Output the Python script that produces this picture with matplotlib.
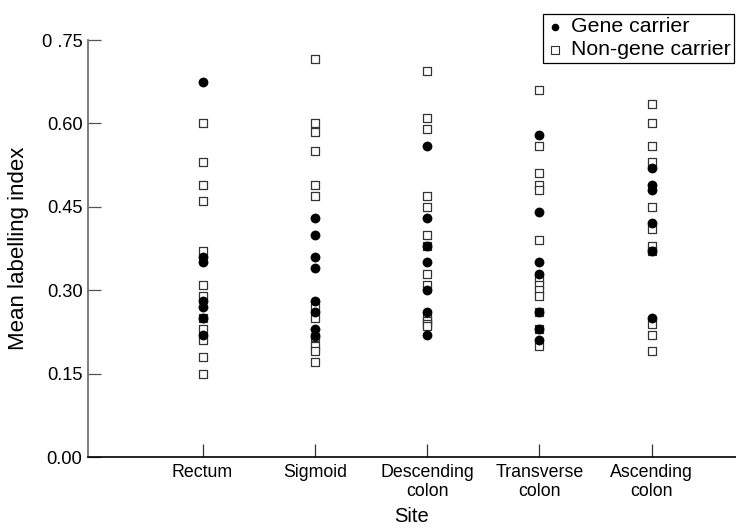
# Mean labelling index by colon site, gene carriers vs non-gene carriers
import numpy as np
import matplotlib.pyplot as plt

plt.rcParams['font.family'] = ['Liberation Sans', 'DejaVu Sans']

# Sites (x axis categories)
sites = ['Rectum', 'Sigmoid', 'Descending\ncolon', 'Transverse\ncolon', 'Ascending\ncolon']

# Gene carrier values, one list per site
gene_rectum = [0.675, 0.36, 0.35, 0.28, 0.27, 0.25, 0.22]
gene_sigmoid = [0.43, 0.40, 0.36, 0.34, 0.28, 0.26, 0.23, 0.217]
gene_descending = [0.56, 0.43, 0.38, 0.35, 0.30, 0.26, 0.22]
gene_transverse = [0.58, 0.44, 0.35, 0.33, 0.26, 0.23, 0.21]
gene_ascending = [0.52, 0.49, 0.48, 0.42, 0.37, 0.25]

# Non-gene carrier values, one list per site
non_rectum = [0.60, 0.53, 0.49, 0.46, 0.37, 0.31, 0.29, 0.25, 0.23, 0.21, 0.18, 0.15]
non_sigmoid = [0.715, 0.60, 0.585, 0.55, 0.49, 0.47, 0.27, 0.25, 0.215, 0.20, 0.19, 0.17]
non_descending = [0.695, 0.61, 0.59, 0.47, 0.45, 0.40, 0.38, 0.33, 0.31,
                  0.25, 0.245, 0.24, 0.235]
non_transverse = [0.66, 0.56, 0.51, 0.49, 0.48, 0.39, 0.32, 0.31, 0.30, 0.29,
                  0.26, 0.23, 0.20]
non_ascending = [0.635, 0.60, 0.56, 0.53, 0.45, 0.41, 0.38, 0.37, 0.24, 0.22, 0.19]

gene = [gene_rectum, gene_sigmoid, gene_descending, gene_transverse, gene_ascending]
non_gene = [non_rectum, non_sigmoid, non_descending, non_transverse, non_ascending]

yticks = [0.00, 0.15, 0.30, 0.45, 0.60, 0.75]
ytick_labels = ['0.00', '0.15', '0.30', '0.45', '0.60', '0 .75']

fig = plt.figure(figsize=(7.36, 5.29), dpi=100)
ax = fig.add_axes([88 / 736, 72 / 529, 648 / 736, 417 / 529])

# squares first, filled circles on top
for i in range(len(sites)):
    xs = np.full(len(non_gene[i]), i + 1)
    ax.scatter(xs, non_gene[i], marker='s', s=38, facecolor='white',
               edgecolor='#333333', linewidth=0.9, zorder=2)
for i in range(len(sites)):
    xs = np.full(len(gene[i]), i + 1)
    ax.scatter(xs, gene[i], marker='o', s=50, color='black',
               linewidth=0, zorder=3)

ax.set_xlim(-0.02, 5.75)
ax.set_ylim(0, 0.75)

ax.set_xticks(range(1, len(sites) + 1))
ax.set_xticklabels(sites, fontsize=12.8, linespacing=1.15)
ax.set_yticks(yticks)
ax.set_yticklabels(ytick_labels, fontsize=13.2)

ax.tick_params(axis='y', direction='in', length=9.5, width=0.9, color='#555555', pad=4)
ax.tick_params(axis='x', direction='in', length=9.5, width=0.9, color='#333333', pad=5)

for side in ['top', 'right']:
    ax.spines[side].set_visible(False)
ax.spines['left'].set_color('#666666')
ax.spines['left'].set_linewidth(1.2)
ax.spines['bottom'].set_color('black')
ax.spines['bottom'].set_linewidth(1.2)

ax.set_xlabel('Site', fontsize=14.5, labelpad=5)
ax.set_ylabel('Mean labelling index', fontsize=16, labelpad=9)

# legend
h1 = ax.scatter([], [], marker='o', s=30, color='black', linewidth=0)
h2 = ax.scatter([], [], marker='s', s=26, facecolor='white', edgecolor='#333333', linewidth=0.8)
leg = fig.legend([h1, h2], ['Gene carrier', 'Non-gene carrier'],
                 loc='upper left', bbox_to_anchor=(543 / 736, 1 - 14 / 529),
                 fontsize=15.3, frameon=True, fancybox=False, framealpha=1,
                 edgecolor='black', borderpad=0.15, handletextpad=0.35,
                 handlelength=0.8, labelspacing=0.2, borderaxespad=0)
leg.get_frame().set_linewidth(0.9)

plt.savefig('out.png', dpi=100)
